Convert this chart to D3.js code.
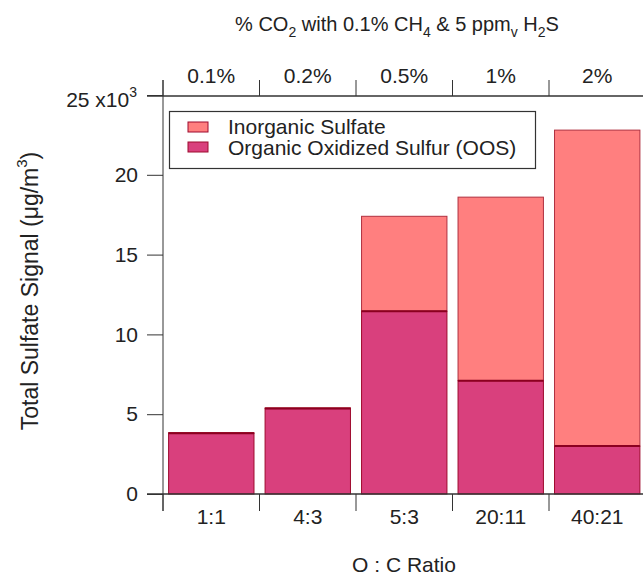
<!DOCTYPE html>
<html><head><meta charset="utf-8">
<script src="https://cdn.jsdelivr.net/npm/d3@7"></script>
<style>body{margin:0;background:#fff}text{font-family:Arial,"Liberation Sans",sans-serif;fill:#222}</style>
</head><body><svg id="c" width="643" height="575"></svg>
<script>
const categories = ["1:1","4:3","5:3","20:11","40:21"];
const topLabels = ["0.1%","0.2%","0.5%","1%","2%"];
const oos = [3.8, 5.35, 11.45, 7.1, 3.0];
const inorganic = [0.05, 0.05, 5.95, 11.5, 19.8];
const yTicks = [0,5,10,15,20,25];
const seriesNames = ["Inorganic Sulfate","Organic Oxidized Sulfur (OOS)"];
const colors = {inorg:"#FF7F7F", oos:"#D9407D", stroke:"#9E0A2E"};
const FS = "21px", SUB = "14px";

const svg = d3.select("#c");
const x = d3.scaleBand().domain(categories).range([163, 645.5]).paddingInner(0.115).paddingOuter(0.058);
const xb = d3.scaleBand().domain(categories).range([163, 645.5]);
const y = d3.scaleLinear().domain([0,25]).range([494, 95]);

// bars
const g = svg.append("g");
categories.forEach((c,i)=>{
  g.append("rect").attr("x", x(c)).attr("width", x.bandwidth())
   .attr("y", y(oos[i]+inorganic[i])).attr("height", y(oos[i]) - y(oos[i]+inorganic[i]))
   .attr("fill", colors.inorg).attr("stroke", "#B0303F").attr("stroke-width", 1);
  g.append("rect").attr("x", x(c)).attr("width", x.bandwidth())
   .attr("y", y(oos[i])).attr("height", y(0) - y(oos[i]))
   .attr("fill", colors.oos).attr("stroke", colors.stroke).attr("stroke-width", 1);
  g.append("line").attr("x1", x(c)).attr("x2", x(c)+x.bandwidth())
   .attr("y1", y(oos[i])).attr("y2", y(oos[i])).attr("stroke", "#8B0020").attr("stroke-width", 2);
});

// y axis
const ya = svg.append("g").attr("transform","translate(163,0)")
  .call(d3.axisLeft(y).tickValues(yTicks).tickSize(16).tickPadding(9).tickFormat(d=> d===25 ? "" : d));
ya.select(".domain").remove();
ya.selectAll("line").attr("stroke","#333");
ya.selectAll("text").style("font-size",FS).attr("fill","#222");
svg.append("line").attr("x1",163).attr("x2",163).attr("y1",80).attr("y2",511).attr("stroke","#333");
const t25 = svg.append("text").attr("x",137).attr("y",107).attr("text-anchor","end").style("font-size",FS);
t25.append("tspan").text("25 x10");
t25.append("tspan").attr("dy",-10).style("font-size",SUB).text("3");

// bottom axis
svg.append("line").attr("x1",147).attr("x2",643).attr("y1",494).attr("y2",494).attr("stroke","#333").attr("stroke-width",1.5);
const xa = svg.append("g").attr("transform","translate(0,494)")
  .call(d3.axisBottom(xb).tickSize(0));
xa.select(".domain").remove();
xa.selectAll("text").attr("y",30).attr("dy",0).style("font-size",FS).attr("fill","#222");
categories.forEach(c=>{
  svg.append("line").attr("x1",xb(c)).attr("x2",xb(c)).attr("y1",494).attr("y2",511).attr("stroke","#333");
});

// top axis
svg.append("line").attr("x1",147).attr("x2",643).attr("y1",96).attr("y2",96).attr("stroke","#333").attr("stroke-width",1.5);
const xt = d3.scaleBand().domain(topLabels).range([163,645.5]);
const ta = svg.append("g").attr("transform","translate(0,96)")
  .call(d3.axisTop(xt).tickSize(0));
ta.select(".domain").remove();
ta.selectAll("text").attr("y",-13).attr("dy",0).style("font-size",FS).attr("fill","#222");
topLabels.forEach(c=>{
  svg.append("line").attr("x1",xt(c)).attr("x2",xt(c)).attr("y1",80).attr("y2",96).attr("stroke","#333");
});

// titles
const tt = svg.append("text").attr("x",397).attr("y",31).attr("text-anchor","middle").style("font-size","20px");
tt.append("tspan").text("% CO");
tt.append("tspan").attr("dy",6).style("font-size",SUB).text("2");
tt.append("tspan").attr("dy",-6).text(" with 0.1% CH");
tt.append("tspan").attr("dy",6).style("font-size",SUB).text("4");
tt.append("tspan").attr("dy",-6).text(" & 5 ppm");
tt.append("tspan").attr("dy",6).style("font-size",SUB).text("v");
tt.append("tspan").attr("dy",-6).text(" H");
tt.append("tspan").attr("dy",6).style("font-size",SUB).text("2");
tt.append("tspan").attr("dy",-6).text("S");

svg.append("text").attr("x",404).attr("y",572).attr("text-anchor","middle").style("font-size",FS).text("O : C Ratio");

const yl = svg.append("text").attr("transform","translate(38,291) rotate(-90)").attr("text-anchor","middle").style("font-size","23px");
yl.append("tspan").text("Total Sulfate Signal (μg/m");
yl.append("tspan").attr("dy",-11).style("font-size","15px").text("3");
yl.append("tspan").attr("dy",11).text(")");

// legend
const lg = svg.append("g");
lg.append("rect").attr("x",169.5).attr("y",111.5).attr("width",366).attr("height",57).attr("fill","#fff").attr("stroke","#333").attr("stroke-width",1.2);
[colors.inorg, colors.oos].forEach((col,i)=>{
  lg.append("rect").attr("x",188).attr("y",122+i*20).attr("width",20).attr("height",10).attr("fill",col).attr("stroke",colors.stroke);
  lg.append("text").attr("x",228).attr("y",134+i*21).style("font-size",FS).text(seriesNames[i]);
});
</script></body></html>
